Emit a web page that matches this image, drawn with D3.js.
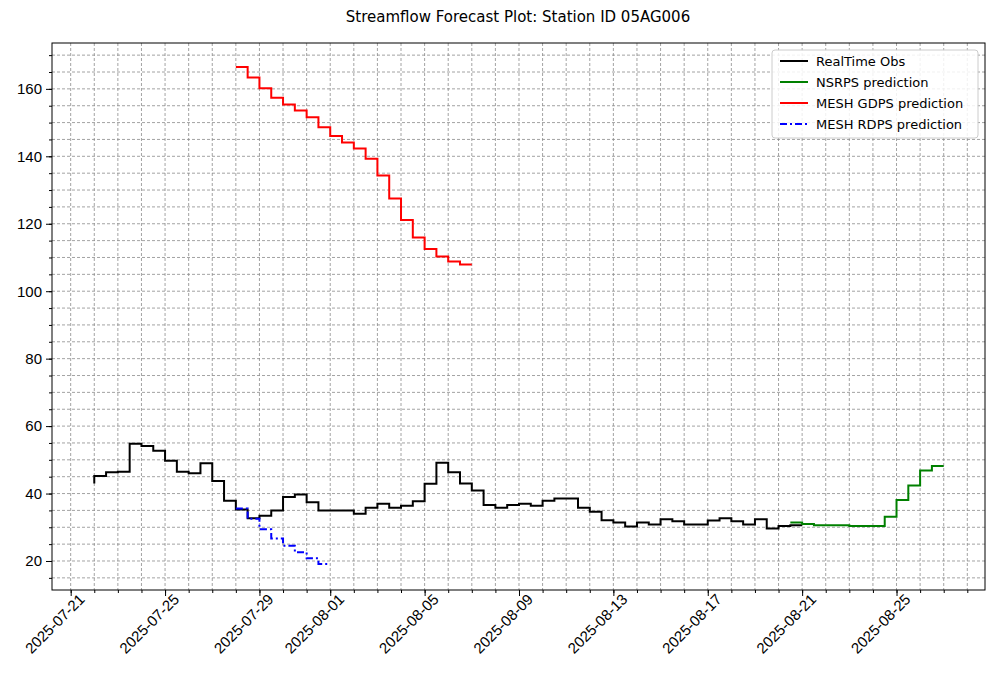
<!DOCTYPE html>
<html><head><meta charset="utf-8">
<script src="https://cdn.jsdelivr.net/npm/d3@7"></script>
<style>body{margin:0;background:#fff;font-family:"DejaVu Sans",sans-serif;}</style>
</head><body><svg id="c" width="995" height="688"></svg>
<script>
// 12-hourly values
const obsStart = new Date(2025, 6, 22, 0);
const obsValues = [43.0, 45.2, 46.3, 46.5, 54.8, 54.1, 52.7, 49.7, 46.5, 46.0, 49.0, 43.7, 37.9, 35.3, 32.7, 33.4,
  35.0, 39.0, 39.7, 37.4, 35.0, 35.0, 35.0, 34.0, 35.8, 37.0, 35.8, 36.4, 37.7, 42.9, 49.1, 46.3,
  43.0, 40.9, 36.6, 35.8, 36.6, 37.0, 36.4, 37.9, 38.5, 38.5, 35.8, 34.6, 32.1, 31.4, 30.2, 31.4,
  30.8, 32.4, 31.8, 30.8, 30.8, 32.0, 32.7, 31.8, 30.8, 32.4, 29.6, 30.4, 30.6];
const nsrpsStart = new Date(2025, 7, 20, 12);
const nsrpsValues = [31.4, 31.4, 31.0, 30.6, 30.6, 30.6, 30.4, 30.4, 30.4, 33.1, 38.1, 42.4, 46.8, 48.2];
const gdpsStart = new Date(2025, 6, 28, 0);
const gdpsValues = [166.5, 166.5, 163.4, 160.2, 157.4, 155.4, 153.6, 151.6, 148.6, 146.0, 144.1, 142.3,
  139.3, 134.3, 127.5, 121.1, 115.9, 112.5, 110.3, 108.8, 107.9];
const rdpsStart = new Date(2025, 6, 28, 0);
const rdpsValues = [35.6, 35.6, 32.5, 29.4, 26.7, 24.5, 22.6, 20.8, 19.1];
const yTicks = [20, 40, 60, 80, 100, 120, 140, 160];
const xTicks = ["2025-07-21", "2025-07-25", "2025-07-29", "2025-08-01", "2025-08-05", "2025-08-09",
  "2025-08-13", "2025-08-17", "2025-08-21", "2025-08-25"];

const series = [
  {name: "RealTime Obs", start: obsStart, values: obsValues, color: "black", dash: null},
  {name: "NSRPS prediction", start: nsrpsStart, values: nsrpsValues, color: "green", dash: null},
  {name: "MESH GDPS prediction", start: gdpsStart, values: gdpsValues, color: "red", dash: null},
  {name: "MESH RDPS prediction", start: rdpsStart, values: rdpsValues, color: "blue", dash: "7,3,2,3"}
];
series.forEach(s => {
  s.points = s.values.map((v, i) => ({t: d3.timeHour.offset(s.start, 12 * i), v}));
});

const margin = {top: 43, right: 10, bottom: 98, left: 52};
const width = 995 - margin.left - margin.right, height = 688 - margin.top - margin.bottom;
const svg = d3.select("#c");
const g = svg.append("g").attr("transform", `translate(${margin.left},${margin.top})`);

const x = d3.scaleTime()
  .domain([d3.timeHour.offset(new Date(2025, 6, 21), -18.2), d3.timeHour.offset(new Date(2025, 7, 25), 90.3)])
  .range([0, width]);
const y = d3.scaleLinear().domain([11.4, 173.6]).range([height, 0]);

const parse = d3.timeParse("%Y-%m-%d");
const majorDays = xTicks.map(parse);
const days = d3.timeDay.range(new Date(2025, 6, 20), new Date(2025, 7, 30)).filter(d => x(d) >= 0 && x(d) <= width);
const minorY = d3.range(15, 175, 5);

// grid
g.append("g").selectAll("line").data(days).join("line")
  .attr("x1", d => x(d)).attr("x2", d => x(d)).attr("y1", 0).attr("y2", height)
  .attr("stroke", "#8c8c8c").attr("stroke-width", 0.8).attr("stroke-dasharray", "3,2");
g.append("g").selectAll("line").data(minorY).join("line")
  .attr("y1", d => y(d)).attr("y2", d => y(d)).attr("x1", 0).attr("x2", width)
  .attr("stroke", "#8c8c8c").attr("stroke-width", 0.8).attr("stroke-dasharray", "3,2");

// axes
const xAxis = g.append("g").attr("transform", `translate(0,${height})`)
  .call(d3.axisBottom(x).tickValues(majorDays).tickFormat(d3.timeFormat("%Y-%m-%d")).tickSize(6).tickPadding(4));
xAxis.selectAll("text").attr("font-size", 15).attr("fill", "#000")
  .attr("text-anchor", "end").attr("dx", "0.2em").attr("dy", "0.5em")
  .attr("transform", "rotate(-45)");
g.append("g").attr("transform", `translate(0,${height})`)
  .call(d3.axisBottom(x).tickValues(days).tickFormat("").tickSize(3))
  .select(".domain").remove();
g.append("g").call(d3.axisLeft(y).tickValues(yTicks).tickSize(6).tickPadding(4))
  .selectAll("text").attr("font-size", 15).attr("fill", "#000");
g.append("g").call(d3.axisLeft(y).tickValues(minorY).tickFormat("").tickSize(3))
  .select(".domain").remove();
g.selectAll(".domain").remove();
g.append("rect").attr("width", width).attr("height", height).attr("fill", "none").attr("stroke", "#000");

// lines
const line = d3.line().x(d => x(d.t)).y(d => y(d.v)).curve(d3.curveStepBefore);
series.forEach(s => {
  g.append("path").datum(s.points).attr("d", line).attr("fill", "none")
    .attr("stroke", s.color).attr("stroke-width", 2).attr("stroke-dasharray", s.dash);
});

// legend
const lg = g.append("g").attr("transform", `translate(${width - 213},7)`);
lg.append("rect").attr("width", 206).attr("height", 88).attr("rx", 3)
  .attr("fill", "white").attr("fill-opacity", 0.85).attr("stroke", "#ccc");
series.forEach((s, i) => {
  const yy = 11 + i * 21;
  lg.append("line").attr("x1", 8).attr("x2", 36).attr("y1", yy).attr("y2", yy)
    .attr("stroke", s.color).attr("stroke-width", 2).attr("stroke-dasharray", s.dash);
  lg.append("text").attr("x", 44).attr("y", yy).attr("dy", "0.35em").attr("font-size", 13).text(s.name);
});

svg.append("text").attr("x", 518).attr("y", 22).attr("text-anchor", "middle")
  .attr("font-size", 15).text("Streamflow Forecast Plot: Station ID 05AG006");
</script></body></html>
